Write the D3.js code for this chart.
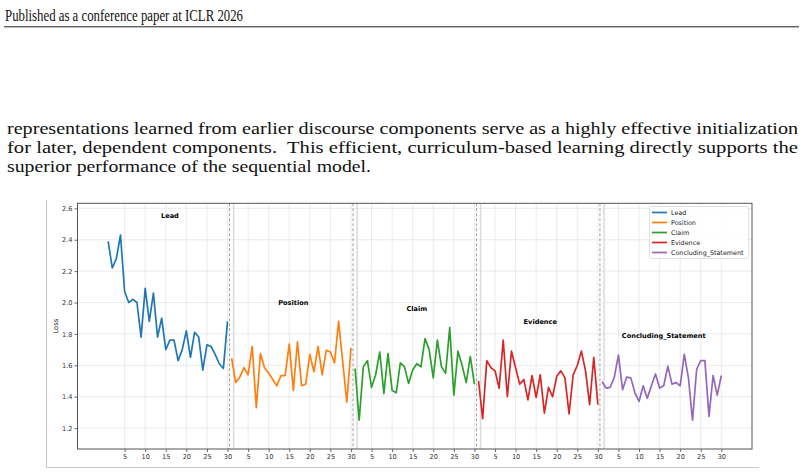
<!DOCTYPE html>
<html>
<head>
<meta charset="utf-8">
<script src="https://cdn.jsdelivr.net/npm/d3@7"></script>
<style>
  body { margin: 0; background: #fff; }
  svg { display: block; }
</style>
</head>
<body>
<svg id="page" width="804" height="475"></svg>
<script>
// loss per step, one array per discourse component (30 steps each)
var segments = ["Lead", "Position", "Claim", "Evidence", "Concluding_Statement"];
var colors = ["#1f77b4", "#ff7f0e", "#2ca02c", "#d62728", "#9467bd"];

var lead = [2.39, 2.22, 2.28, 2.43, 2.07, 2.00, 2.02, 2.00, 1.78, 2.09,
            1.88, 2.06, 1.78, 1.90, 1.70, 1.76, 1.76, 1.63, 1.70, 1.82,
            1.65, 1.81, 1.78, 1.57, 1.73, 1.72, 1.67, 1.61, 1.58, 1.88];
var position = [1.645, 1.49, 1.525, 1.585, 1.54, 1.72, 1.33, 1.675, 1.585, 1.55,
                1.51, 1.47, 1.535, 1.535, 1.735, 1.44, 1.75, 1.47, 1.48, 1.67,
                1.56, 1.72, 1.54, 1.695, 1.685, 1.615, 1.88, 1.62, 1.365, 1.71];
var claim = [1.58, 1.25, 1.59, 1.63, 1.46, 1.54, 1.685, 1.42, 1.675, 1.44,
             1.425, 1.615, 1.59, 1.485, 1.57, 1.61, 1.59, 1.77, 1.70, 1.52,
             1.76, 1.59, 1.55, 1.84, 1.41, 1.69, 1.60, 1.49, 1.655, 1.48];
var evidence = [1.50, 1.26, 1.63, 1.585, 1.565, 1.455, 1.76, 1.40, 1.69, 1.585,
                1.48, 1.51, 1.38, 1.535, 1.395, 1.54, 1.295, 1.46, 1.40, 1.53,
                1.565, 1.52, 1.29, 1.54, 1.60, 1.69, 1.565, 1.35, 1.65, 1.35];
var concluding = [1.495, 1.455, 1.46, 1.525, 1.665, 1.445, 1.525, 1.52, 1.425, 1.37,
                  1.47, 1.39, 1.47, 1.545, 1.455, 1.47, 1.595, 1.48, 1.49, 1.47,
                  1.67, 1.52, 1.25, 1.575, 1.63, 1.63, 1.275, 1.535, 1.41, 1.535];

var seriesValues = [lead, position, claim, evidence, concluding];
var localTicks = [5, 10, 15, 20, 25, 30];
var yTicks = [1.2, 1.4, 1.6, 1.8, 2.0, 2.2, 2.4, 2.6];

var header = "Published as a conference paper at ICLR 2026";
var paragraph = [
    "representations learned from earlier discourse components serve as a highly effective initialization",
    "for later, dependent components.  This efficient, curriculum-based learning directly supports the",
    "superior performance of the sequential model."
];
// rendered widths of the text lines in the page image
var paragraphWidths = [791, 791, 364];

var svg = d3.select("#page");
svg.append("rect").attr("width", 804).attr("height", 475).attr("fill", "#fff");

// page header
svg.append("text")
    .attr("x", 5).attr("y", 20.5)
    .attr("font-family", "Liberation Serif")
    .attr("font-size", 16.6)
    .attr("fill", "#111")
    .attr("textLength", 238).attr("lengthAdjust", "spacingAndGlyphs")
    .text(header);
svg.append("line")
    .attr("x1", 4).attr("x2", 799).attr("y1", 26.8).attr("y2", 26.8)
    .attr("stroke", "#222").attr("stroke-width", 1);

// paragraph
paragraph.forEach(function(line, i) {
    svg.append("text")
        .attr("x", 7).attr("y", 134 + i * 19)
        .attr("font-family", "Liberation Serif")
        .attr("font-size", 16.6)
        .attr("fill", "#111")
        .attr("xml:space", "preserve")
        .attr("textLength", paragraphWidths[i])
        .attr("lengthAdjust", "spacingAndGlyphs")
        .text(line);
});

// figure frame (left and bottom edge visible)
svg.append("line").attr("x1", 46.5).attr("x2", 46.5).attr("y1", 200).attr("y2", 467.5)
    .attr("stroke", "#c8c8c8").attr("stroke-width", 1);
svg.append("line").attr("x1", 46).attr("x2", 759).attr("y1", 467.5).attr("y2", 467.5)
    .attr("stroke", "#c8c8c8").attr("stroke-width", 1);

var plot = { left: 77.5, right: 752, top: 203.3, bottom: 449 };
var n = lead.length;
var total = n * segments.length;
var pad = (total - 1) * 0.05;

var x = d3.scaleLinear().domain([1 - pad, total + pad]).range([plot.left, plot.right]);
var y = d3.scaleLinear().domain([1.067, 2.632]).range([plot.bottom, plot.top]);

var g = svg.append("g");

// grid
var xTickValues = [];
segments.forEach(function(s, si) {
    localTicks.forEach(function(t) { xTickValues.push(si * n + t); });
});
g.append("g").selectAll("line").data(xTickValues).join("line")
    .attr("x1", d => x(d)).attr("x2", d => x(d))
    .attr("y1", plot.top).attr("y2", plot.bottom)
    .attr("stroke", "#e6e6e6").attr("stroke-width", 0.8);
g.append("g").selectAll("line").data(yTicks).join("line")
    .attr("x1", plot.left).attr("x2", plot.right)
    .attr("y1", d => y(d)).attr("y2", d => y(d))
    .attr("stroke", "#e6e6e6").attr("stroke-width", 0.8);

// segment boundaries
var bounds = d3.range(1, segments.length).map(i => i * n);
g.append("g").selectAll("line").data(bounds).join("line")
    .attr("x1", d => x(d + 1.5)).attr("x2", d => x(d + 1.5))
    .attr("y1", plot.top).attr("y2", plot.bottom)
    .attr("stroke", "#dcdcdc").attr("stroke-width", 1.6);
g.append("g").selectAll("line").data(bounds).join("line")
    .attr("x1", d => x(d + 0.5)).attr("x2", d => x(d + 0.5))
    .attr("y1", plot.top).attr("y2", plot.bottom)
    .attr("stroke", "#a0a0a0").attr("stroke-width", 1)
    .attr("stroke-dasharray", "3,2");

// series
var line = d3.line().x(d => x(d.x)).y(d => y(d.y));
seriesValues.forEach(function(vals, si) {
    var pts = vals.map(function(v, i) { return { x: si * n + i + 1, y: v }; });
    g.append("path")
        .datum(pts)
        .attr("d", line)
        .attr("fill", "none")
        .attr("stroke", colors[si])
        .attr("stroke-width", 1.7)
        .attr("stroke-linejoin", "round");
    g.append("text")
        .attr("x", x(si * n + 16))
        .attr("y", y(d3.max(vals) + 0.12))
        .attr("dy", "0.35em")
        .attr("text-anchor", "middle")
        .attr("font-family", "DejaVu Sans")
        .attr("font-weight", "bold")
        .attr("font-size", 6.6)
        .attr("fill", "#000")
        .text(segments[si]);
});

// axes
var xAxis = d3.axisBottom(x).tickValues(xTickValues)
    .tickFormat(d => ((d - 1) % n) + 1).tickSize(3).tickPadding(2);
var yAxis = d3.axisLeft(y).tickValues(yTicks)
    .tickFormat(d3.format(".1f")).tickSize(3).tickPadding(2);

var gx = g.append("g").attr("transform", "translate(0," + plot.bottom + ")").call(xAxis);
var gy = g.append("g").attr("transform", "translate(" + plot.left + ",0)").call(yAxis);
[gx, gy].forEach(function(a) {
    a.select(".domain").remove();
    a.selectAll("line").attr("stroke", "#444").attr("stroke-width", 0.8);
    a.selectAll("text").attr("font-family", "DejaVu Sans").attr("font-size", 6.6).attr("fill", "#333");
});

g.append("rect")
    .attr("x", plot.left).attr("y", plot.top)
    .attr("width", plot.right - plot.left).attr("height", plot.bottom - plot.top)
    .attr("fill", "none").attr("stroke", "#555").attr("stroke-width", 1);

g.append("text")
    .attr("transform", "translate(58," + ((plot.top + plot.bottom) / 2) + ") rotate(-90)")
    .attr("text-anchor", "middle")
    .attr("font-family", "DejaVu Sans")
    .attr("font-size", 6.8)
    .attr("fill", "#222")
    .text("Loss");

// legend
var legend = g.append("g").attr("transform", "translate(649.5,206.5)");
legend.append("rect")
    .attr("width", 99).attr("height", 52).attr("rx", 2)
    .attr("fill", "#fff").attr("fill-opacity", 0.85)
    .attr("stroke", "#d8d8d8").attr("stroke-width", 0.8);
segments.forEach(function(s, si) {
    var row = legend.append("g").attr("transform", "translate(0," + (6 + si * 10) + ")");
    row.append("line").attr("x1", 2.5).attr("x2", 17.5)
        .attr("stroke", colors[si]).attr("stroke-width", 1.7);
    row.append("text").attr("x", 21.5).attr("dy", "0.35em")
        .attr("font-family", "DejaVu Sans").attr("font-size", 6.4).attr("fill", "#222")
        .text(s);
});
</script>
</body>
</html>
